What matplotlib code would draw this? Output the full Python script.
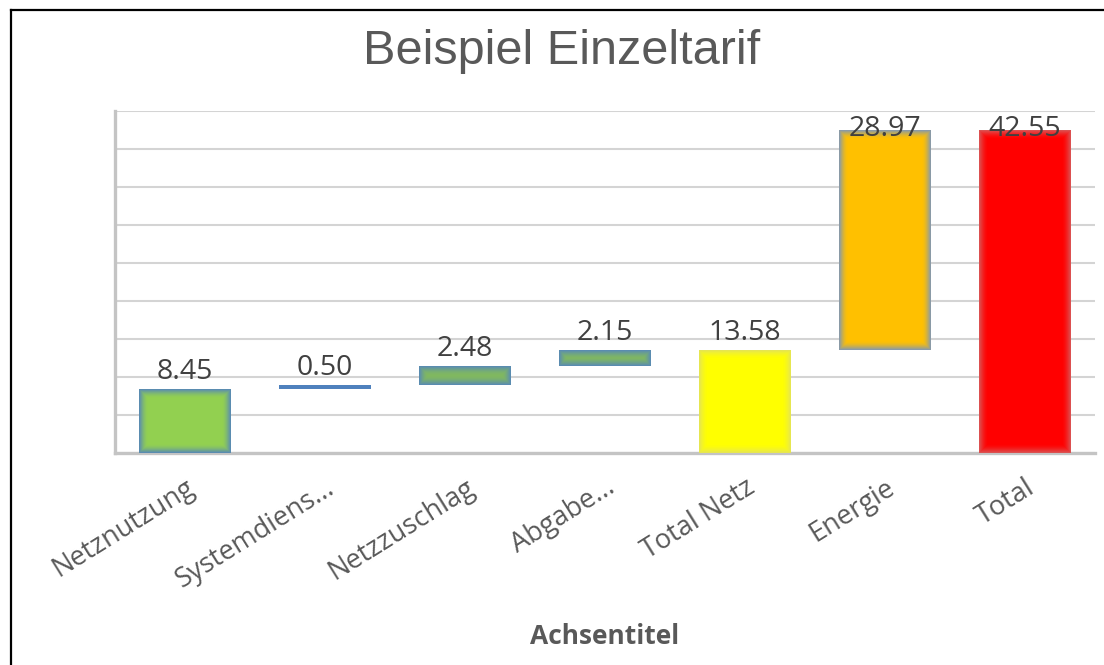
import numpy as np
import matplotlib
matplotlib.use("Agg")
import matplotlib.pyplot as plt
from matplotlib.patches import Rectangle
from matplotlib.colors import to_rgb
from matplotlib.lines import Line2D

# waterfall data
categories = ["Netznutzung", "Systemdiens...", "Netzzuschlag", "Abgabe...",
              "Total Netz", "Energie", "Total"]
values = [8.45, 0.50, 2.48, 2.15, 13.58, 28.97, 42.55]
is_total = [False, False, False, False, True, False, True]
fills = ["#92D050", "#4F81BD", "#80B860", "#80B860", "#FFFF00", "#FFC000", "#FF0000"]
edges = ["#5A8CB0", "#4F81BD", "#5A8CB0", "#5A8CB0", "#E6E650", "#8A9AA6", "#DC5050"]

TXT = "#595959"
LBL = "#404040"
plt.rcParams["font.family"] = ["Open Sans", "DejaVu Sans"]

fig = plt.figure(figsize=(11.04, 6.65), dpi=100)
ax = fig.add_axes([115 / 1104, 1 - 453 / 665, 980 / 1104, 342 / 665])
ax.set_xlim(-0.5, 6.5)
ax.set_ylim(0, 45)

# bottoms of the floating bars
bottoms, run = [], 0.0
for v, t in zip(values, is_total):
    if t:
        bottoms.append(0.0)
        run = v
    else:
        bottoms.append(run)
        run += v

W = 0.66
px_x = 1 / 140.0      # data units per pixel
px_y = 45 / 342.0
GLOW = 9

def glow_bar(x, b, h, fill, edge):
    f, e = np.array(to_rgb(fill)), np.array(to_rgb(edge))
    for k in range(GLOW + 1):
        t = np.sin(0.5 * np.pi * k / GLOW)
        c = e * (1 - t) + f * t
        dx, dy = k * px_x, k * px_y
        w, hh = W - 2 * dx, h - 2 * dy
        if w <= 0 or hh <= 0:
            break
        ax.add_patch(Rectangle((x - W / 2 + dx, b + dy), w, hh, facecolor=c,
                               edgecolor="none", zorder=3))

for i, (v, b) in enumerate(zip(values, bottoms)):
    glow_bar(i, b, v, fills[i], edges[i])
    top = b + v
    if top + 4 > 45:
        ax.annotate(f"{v:.2f}", xy=(i, 45), xytext=(0, -3), textcoords="offset points",
                    ha="center", va="top", fontsize=20.5, color=LBL, zorder=5)
    else:
        ax.annotate(f"{v:.2f}", xy=(i, top), xytext=(0, 2), textcoords="offset points",
                    ha="center", va="bottom", fontsize=20.5, color=LBL, zorder=5)

ax.set_yticks(np.arange(0, 46, 5))
ax.set_yticklabels([])
ax.tick_params(axis="y", length=0)
ax.grid(axis="y", color="#D4D4D4", lw=1.5)
ax.set_axisbelow(True)
ax.set_xticks(range(len(categories)))
ax.set_xticklabels(categories, rotation=32, ha="right", va="top",
                   rotation_mode="anchor", fontsize=19.5, color=TXT)
ax.tick_params(axis="x", length=0, pad=15)
for s in ["top", "right"]:
    ax.spines[s].set_visible(False)
for s in ["left", "bottom"]:
    ax.spines[s].set_color("#C4C4C4")
    ax.spines[s].set_linewidth(2.4)

fig.text(562 / 1104, 1 - 52 / 665, "Beispiel Einzeltarif", family="Liberation Sans",
         fontsize=35, color=TXT, ha="center", va="center")
fig.text(605 / 1104, 1 - 637 / 665, "Achsentitel", fontsize=19, fontweight="bold",
         color=TXT, ha="center", va="center")

# outer frame (top and left)
fig.add_artist(Line2D([10.5 / 1104, 1], [1 - 9.5 / 665] * 2, color="black", lw=1.6,
                      transform=fig.transFigure))
fig.add_artist(Line2D([10.5 / 1104] * 2, [0, 1 - 9.5 / 665], color="black", lw=1.6,
                      transform=fig.transFigure))

fig.savefig("out.png", dpi=100, facecolor="white")
